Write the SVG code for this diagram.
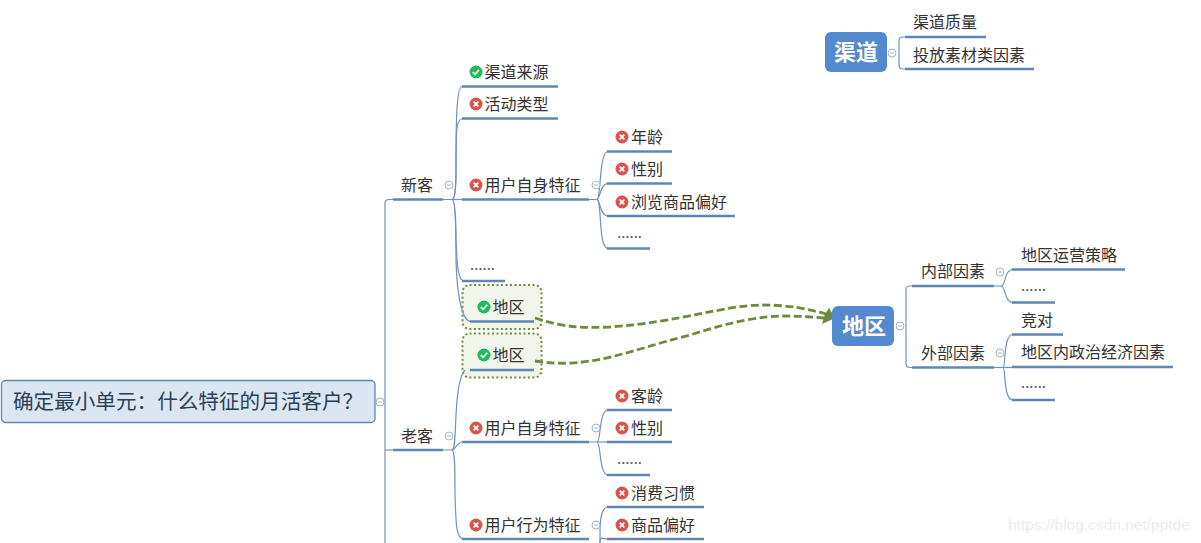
<svg xmlns="http://www.w3.org/2000/svg" width="1201" height="543" viewBox="0 0 1201 543">
<style>
text{font-family:"Noto Sans CJK SC","Noto Sans",sans-serif;font-size:16px;fill:#333}
.d{font-size:15px;fill:#555}
.u{stroke:#5f86b5;stroke-width:2.300;fill:none}
.b{stroke:#6f93bd;stroke-width:1.200;fill:none}
.c{stroke:#9fb4c9;stroke-width:1;fill:#fff}
.m{stroke:#9fb4c9;stroke-width:1}
.big{font-size:22px;font-weight:700;fill:#fff}
.hl{fill:#f1f5ea;stroke:#6e8b3d;stroke-width:2;stroke-dasharray:2 2.500}
.rel{stroke:#6e8b3d;stroke-width:2.800;stroke-dasharray:8 3.500;fill:none}
</style>
<defs>
<g id="ok"><circle r="6.500" fill="#1fbb5f"/><path d="M-3.200 0L-1 2.400L3.200-2.200" stroke="#fff" stroke-width="1.700" fill="none"/></g>
<g id="no"><circle r="6.500" fill="#d9534f"/><path d="M-2.300-2.300L2.300 2.300M2.300-2.300L-2.300 2.300" stroke="#fff" stroke-width="1.800" fill="none"/></g>
<g id="col"><circle r="4" class="c"/><path d="M-2 0H2" class="m"/></g>
</defs>
<rect width="1201" height="543" fill="#fff"/>
<g id="highlights">
<rect class="hl" x="462.500" y="285" width="79" height="44" rx="7"/>
<rect class="hl" x="462.500" y="333.500" width="79" height="44" rx="7"/>
</g>
<g id="connectors">
<path class="b" d="M385 543V203Q385 199.500 389 199.500H393"/>
<path class="b" d="M385 450H393"/>
<path class="b" d="M443 199.500H452C455 199.500 456 190 456 170C456 130 456 86.500 462 86.500"/>
<path class="b" d="M452 199.500C455 199.500 456 190 456 165C456 130 456 118.500 463 118.500"/>
<path class="b" d="M452 199.500H462"/>
<path class="b" d="M452 199.500C455 199.500 456 215 456 240C457 265 458 281 464 281"/>
<path class="b" d="M452 199.500C455 199.500 456 220 456 260C457 300 463 321.500 471 321.500"/>
<path class="b" d="M443 450H452C455 450 455 435 456 415C457 395 460 375 465 370"/>
<path class="b" d="M452 450C455 450 457 442 463 442"/>
<path class="b" d="M452 450C455 450 455 470 455 495C456 525 456 539 464 539"/>
<path class="b" d="M589 199.500H597C601 199.500 599 151.500 608 151.500"/>
<path class="b" d="M597 199.500C600 199.500 600 183.500 608 183.500"/>
<path class="b" d="M597 199.500C600 199.500 600 216 608 216"/>
<path class="b" d="M597 199.500C602 199.500 598 248.500 608 248.500"/>
<path class="b" d="M589 442H597C601 442 599 410 608 410"/>
<path class="b" d="M597 442H607"/>
<path class="b" d="M597 442C601 442 599 475 608 475"/>
<path class="b" d="M600 543C600 530 599 507 608 507"/>
<path class="b" d="M600 543C600 535 602 539 607 539"/>
<path class="b" d="M905 37H903Q899 37 899 41V65Q899 69 903 69H905"/>
<path class="b" d="M912 286H910Q906 286 906 290V363.500Q906 367.500 910 367.500H912"/>
<path class="b" d="M994 286H1001C1006 286 1004 269.500 1013 269.500"/>
<path class="b" d="M1001 286C1006 286 1004 302.500 1013 302.500"/>
<path class="b" d="M994 367.500H1012"/>
<path class="b" d="M1003 367.500C1006 367.500 1003 334.500 1013 334.500"/>
<path class="b" d="M1003 367.500C1006 367.500 1003 400 1013 400"/>
<path class="rel" d="M535 318C565 328 585 328 610 327C680 322 725 305 762 305C790 305 808 309 826 314"/>
<path class="rel" d="M535 361C590 370 630 350 690 335C730 322 760 316 785 316C800 316 810 317 824 318"/>
<path fill="#6e8b3d" d="M835 318L829 308L825 314L822 324Z"/>
</g>
<g id="root"><rect x="1.500" y="380.500" width="373.500" height="42" rx="4" fill="#dce6f2" stroke="#5f86b5" stroke-width="1.300"/><text x="13" y="409" style="font-size:20.600px;fill:#2b3f57">确定最小单元：什么特征的月活客户？</text><use href="#col" x="380" y="402"/></g>
<g id="n-xinke"><text x="401" y="191">新客</text><path class="u" d="M393 199.500H443"/><use href="#col" x="449" y="185"/></g>
<g id="n-qudaolaiyuan"><use href="#ok" x="476" y="72"/><text x="484.500" y="78">渠道来源</text><path class="u" d="M462 86.500H558"/></g>
<g id="n-huodong"><use href="#no" x="476" y="104"/><text x="484.500" y="110">活动类型</text><path class="u" d="M462 118.500H558"/></g>
<g id="n-yonghu1"><use href="#no" x="476" y="185"/><text x="484.500" y="191">用户自身特征</text><path class="u" d="M462 199.500H589"/><use href="#col" x="596" y="185"/></g>
<g id="n-nianling"><use href="#no" x="622" y="137"/><text x="631" y="143">年龄</text><path class="u" d="M607 151.500H672"/></g>
<g id="n-xingbie1"><use href="#no" x="622" y="169"/><text x="631" y="175">性别</text><path class="u" d="M607 183.500H672"/></g>
<g id="n-liulan"><use href="#no" x="622" y="202"/><text x="631" y="208">浏览商品偏好</text><path class="u" d="M607 216H735"/></g>
<g id="n-more1"><text class="d" x="617" y="238">......</text><path class="u" d="M607 248.500H650"/></g>
<g id="n-more2"><text class="d" x="470" y="270">......</text><path class="u" d="M462 281H505"/></g>
<g id="n-diqu1"><use href="#ok" x="484" y="307"/><text x="492.500" y="313">地区</text><path class="u" d="M470 321.500H534"/></g>
<g id="n-diqu2"><use href="#ok" x="484" y="355"/><text x="492.500" y="361">地区</text><path class="u" d="M470 370H534"/></g>
<g id="n-laoke"><text x="401" y="442">老客</text><path class="u" d="M393 450H443"/><use href="#col" x="449" y="436"/></g>
<g id="n-yonghu2"><use href="#no" x="476" y="428"/><text x="484.500" y="434">用户自身特征</text><path class="u" d="M462 442H589"/><use href="#col" x="596" y="428"/></g>
<g id="n-keling"><use href="#no" x="622" y="396"/><text x="631" y="402">客龄</text><path class="u" d="M607 410H672"/></g>
<g id="n-xingbie2"><use href="#no" x="622" y="428"/><text x="631" y="434">性别</text><path class="u" d="M607 442H672"/></g>
<g id="n-more3"><text class="d" x="617" y="464">......</text><path class="u" d="M607 475H650"/></g>
<g id="n-yonghu3"><use href="#no" x="476" y="525"/><text x="484.500" y="531">用户行为特征</text><path class="u" d="M462 539H589"/><use href="#col" x="596" y="525"/></g>
<g id="n-xiaofei"><use href="#no" x="622" y="493"/><text x="631" y="499">消费习惯</text><path class="u" d="M607 507H704"/></g>
<g id="n-pianhao"><use href="#no" x="622" y="525"/><text x="631" y="531">商品偏好</text><path class="u" d="M607 539H704"/></g>
<g id="n-qudao"><rect x="825" y="32" width="62" height="40" rx="6" fill="#5289cf"/><text class="big" x="834" y="60">渠道</text><use href="#col" x="892" y="53"/></g>
<g id="n-zhiliang"><text x="913" y="28">渠道质量</text><path class="u" d="M905 37H986"/></g>
<g id="n-sucai"><text x="913" y="61">投放素材类因素</text><path class="u" d="M905 69H1034"/></g>
<g id="n-diqu"><rect x="832" y="306" width="62" height="40" rx="6" fill="#5289cf"/><text class="big" x="842" y="334">地区</text><use href="#col" x="900" y="326"/></g>
<g id="n-neibu"><text x="921" y="277">内部因素</text><path class="u" d="M912 286H994"/><use href="#col" x="1000" y="272"/></g>
<g id="n-waibu"><text x="921" y="359">外部因素</text><path class="u" d="M912 367.500H994"/><use href="#col" x="1000" y="353"/></g>
<g id="n-yunying"><text x="1021" y="261">地区运营策略</text><path class="u" d="M1012 269.500H1125"/></g>
<g id="n-more4"><text class="d" x="1021" y="291">......</text><path class="u" d="M1012 302.500H1055"/></g>
<g id="n-jingdui"><text x="1021" y="326">竞对</text><path class="u" d="M1012 334.500H1063"/></g>
<g id="n-zhengzhi"><text x="1021" y="358">地区内政治经济因素</text><path class="u" d="M1012 367H1173"/></g>
<g id="n-more5"><text class="d" x="1021" y="388">......</text><path class="u" d="M1012 400H1055"/></g>
<text x="1008" y="530" style="font-family:'Liberation Sans',sans-serif;font-size:15.500px;fill:#ececec">https://blog.csdn.net/pptde</text>
</svg>
